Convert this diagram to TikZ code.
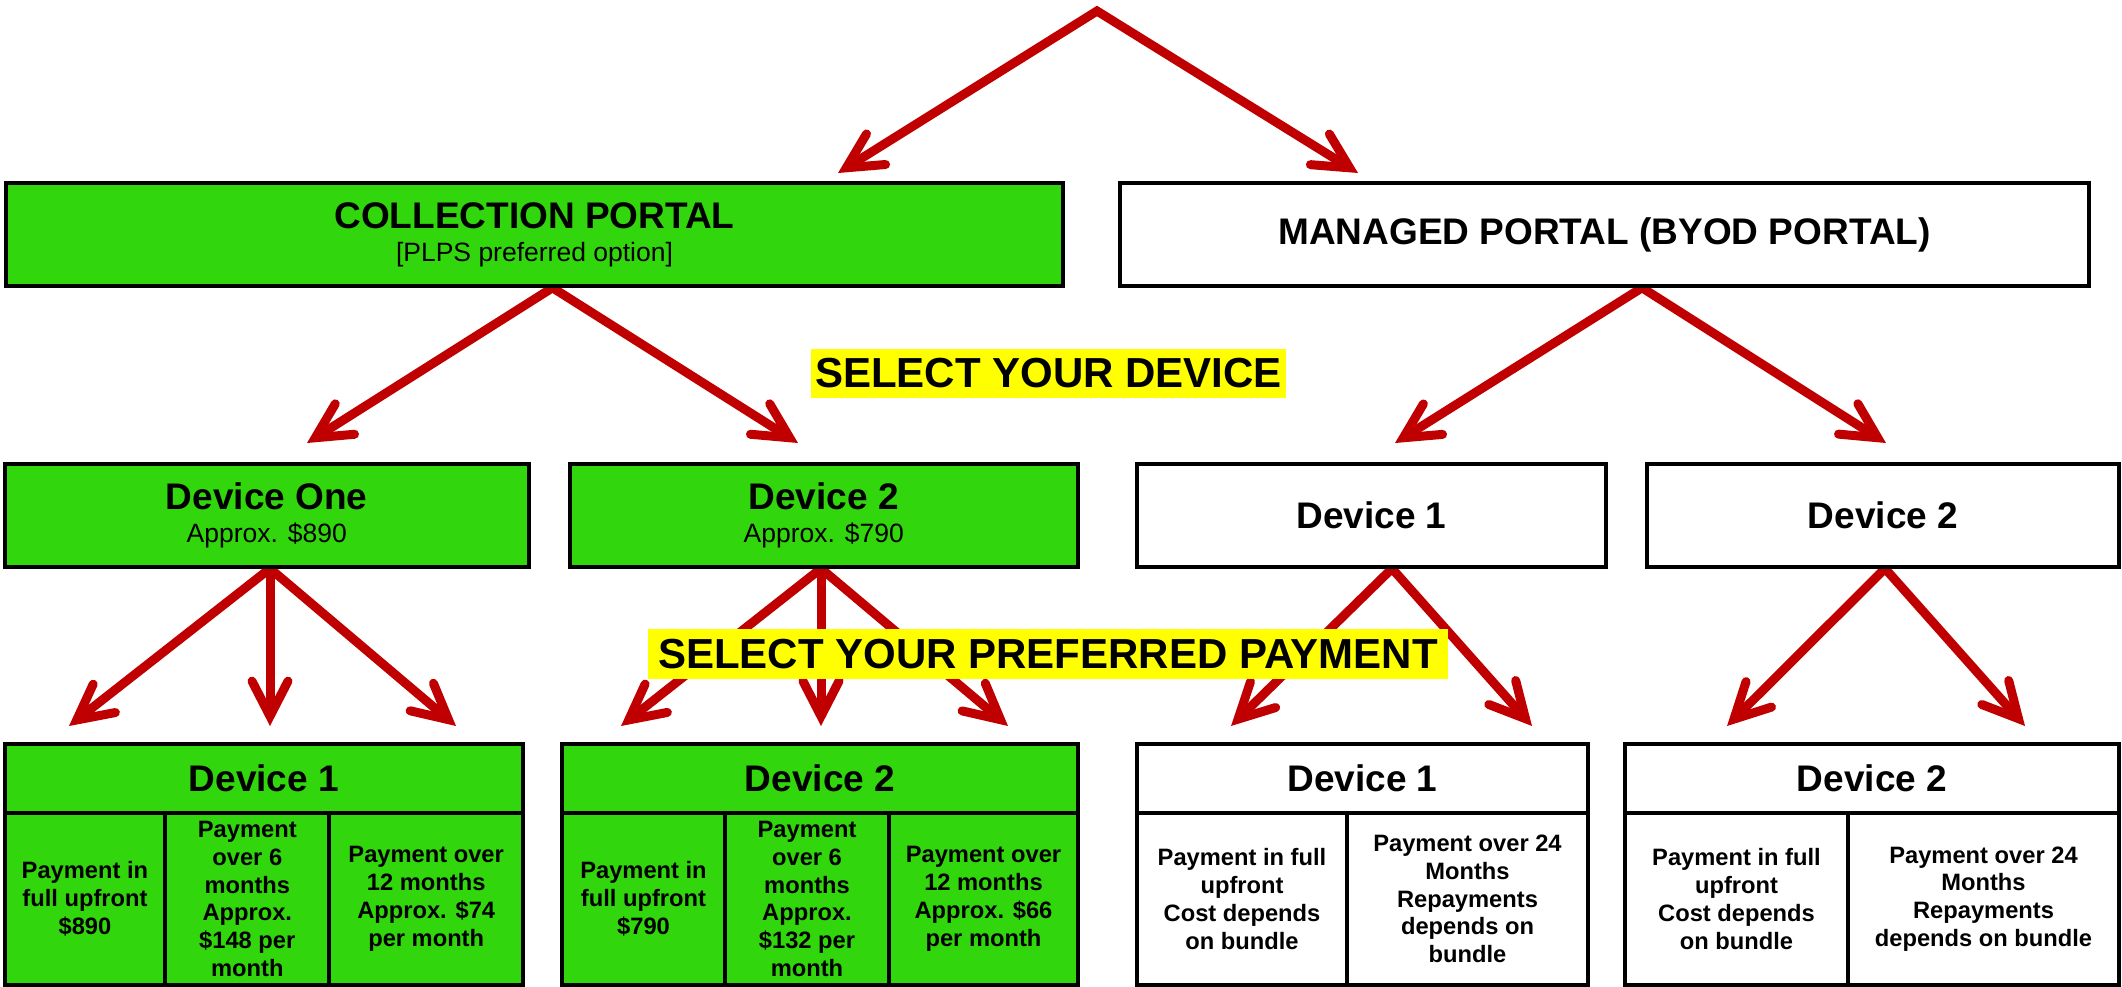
\documentclass[tikz,border=0pt]{standalone}
\usepackage{fontspec}
\setmainfont{Liberation Sans}
\usetikzlibrary{arrows.meta,backgrounds}
\definecolor{pgreen}{RGB}{50,214,12}
\definecolor{ared}{RGB}{192,0,0}
\definecolor{hyell}{RGB}{255,255,0}
\begin{document}
\begin{tikzpicture}[x=1pt,y=-1pt,
 box/.style={draw=black,line width=4pt,inner sep=0pt,align=center},
 gbox/.style={box,fill=pgreen},
 wbox/.style={box,fill=white},
 big/.style={font=\fontsize{37}{44}\selectfont\bfseries},
 two/.style={font=\fontsize{26.5}{33}\selectfont},
 cell/.style={font=\fontsize{23.7}{27.8}\selectfont\bfseries},
 hl/.style={fill=hyell,inner sep=0pt,font=\fontsize{42}{50}\selectfont\bfseries},
 tipb/.tip={Straight Barb[length=35pt,width=36pt,line cap=round,line join=miter]},
 conn/.style={draw=ared,line width=9pt,line join=miter,-tipb},
 both/.style={draw=ared,line width=9pt,line join=miter,tipb-tipb},
]
\path[use as bounding box] (0,0) rectangle (2122,986);

% portals
\node[gbox,two,minimum width=1057pt,minimum height=102.5pt] (coll) at (534.5,234.5)
  {{\fontsize{37}{44}\selectfont\bfseries COLLECTION PORTAL}\\{[}PLPS preferred option{]}};
\node[wbox,big,minimum width=969pt,minimum height=102.5pt] (man) at (1604.5,234.5)
  {MANAGED PORTAL (BYOD PORTAL)};

% device row
\node[gbox,two,minimum width=523.5pt,minimum height=102.5pt] (d1) at (266.75,515.25)
  {{\fontsize{37}{44}\selectfont\bfseries Device One}\\Approx. \$890};
\node[gbox,two,minimum width=508.5pt,minimum height=102.5pt] (d2) at (823.75,515.25)
  {{\fontsize{37}{44}\selectfont\bfseries Device 2}\\Approx. \$790};
\node[wbox,big,minimum width=469pt,minimum height=102.5pt] (md1) at (1371.5,515.25) {Device 1};
\node[wbox,big,minimum width=472pt,minimum height=102.5pt] (md2) at (1883,515.25) {Device 2};

% labels
\node[hl,minimum width=475pt,minimum height=49pt] (seldev) at (1048.5,373.5) {SELECT YOUR DEVICE};
\node[hl,minimum width=800pt,minimum height=50pt] (selpay) at (1048,654) {SELECT YOUR PREFERRED PAYMENT};

% table 1
\node[gbox,big,minimum width=518.3pt,minimum height=69.3pt] (t1h) at (263.85,778.65) {Device 1};
\node[gbox,cell,minimum width=160.5pt,minimum height=171.2pt] (t1a) at (84.95,898.9) {Payment in\\full upfront\\\$890};
\node[gbox,cell,minimum width=164.2pt,minimum height=171.2pt] (t1b) at (247.3,898.9) {Payment\\over 6\\months\\Approx.\\\$148 per\\month};
\node[gbox,cell,minimum width=193.6pt,minimum height=171.2pt] (t1c) at (426.2,898.9) {Payment over\\12 months\\Approx. \$74\\per month};

% table 2
\node[gbox,big,minimum width=516pt,minimum height=69.3pt] (t2h) at (820,778.65) {Device 2};
\node[gbox,cell,minimum width=163pt,minimum height=171.2pt] (t2a) at (643.5,898.9) {Payment in\\full upfront\\\$790};
\node[gbox,cell,minimum width=164pt,minimum height=171.2pt] (t2b) at (807,898.9) {Payment\\over 6\\months\\Approx.\\\$132 per\\month};
\node[gbox,cell,minimum width=189pt,minimum height=171.2pt] (t2c) at (983.5,898.9) {Payment over\\12 months\\Approx. \$66\\per month};

% table 3
\node[wbox,big,minimum width=451pt,minimum height=69.3pt] (t3h) at (1362.5,778.65) {Device 1};
\node[wbox,cell,minimum width=210pt,minimum height=171.2pt] (t3a) at (1242,898.9) {Payment in full\\upfront\\Cost depends\\on bundle};
\node[wbox,cell,minimum width=241pt,minimum height=171.2pt] (t3b) at (1467.5,898.9) {Payment over 24\\Months\\Repayments\\depends on\\bundle};

% table 4
\node[wbox,big,minimum width=494pt,minimum height=69.3pt] (t4h) at (1872,778.65) {Device 2};
\node[wbox,cell,minimum width=223pt,minimum height=171.2pt] (t4a) at (1736.5,898.9) {Payment in full\\upfront\\Cost depends\\on bundle};
\node[wbox,cell,minimum width=271pt,minimum height=171.2pt] (t4b) at (1983.5,898.9) {Payment over 24\\Months\\Repayments\\depends on bundle};

\begin{pgfonlayer}{background}
\coordinate (top) at (1097,11);
\coordinate (topL) at (838,173);
\coordinate (topR) at (1358,173);
\draw[both] (topL) -- (top) -- (topR);

\coordinate (collL) at (307,443);
\coordinate (collR) at (798,443);
\draw[both] (collL) -- ([xshift=18pt]coll.south) -- (collR);

\coordinate (manL) at (1395,443);
\coordinate (manR) at (1886,443);
\draw[both] (manL) -- ([xshift=37.5pt]man.south) -- (manR);

\coordinate (d1L) at (69,726);
\coordinate (d1M) at (270,726);
\coordinate (d1R) at (456,726);
\draw[both] (d1L) -- ([xshift=3.25pt]d1.south) -- (d1R);
\draw[conn] ([xshift=3.25pt]d1.south) -- (d1M);

\coordinate (d2L) at (621,726);
\coordinate (d2M) at (821,726);
\coordinate (d2R) at (1008,726);
\draw[both] (d2L) -- ([xshift=-2.75pt]d2.south) -- (d2R);
\draw[conn] ([xshift=-2.75pt]d2.south) -- (d2M);

\coordinate (md1L) at (1231,726);
\coordinate (md1R) at (1532,726);
\draw[both] (md1L) -- ([xshift=20.5pt]md1.south) -- (md1R);

\coordinate (md2L) at (1727,726);
\coordinate (md2R) at (2025,726);
\draw[both] (md2L) -- ([xshift=2pt]md2.south) -- (md2R);
\end{pgfonlayer}
\end{tikzpicture}
\end{document}
